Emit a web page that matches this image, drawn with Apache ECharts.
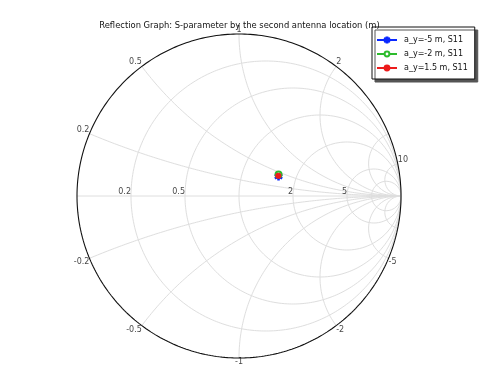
<!DOCTYPE html>
<html><head><meta charset="utf-8">
<script src="https://cdn.jsdelivr.net/npm/echarts@6/dist/echarts.min.js"></script>
<style>html,body{margin:0;padding:0;background:#fff}#c{width:479px;height:366px}</style>
</head><body><div id="c"></div>
<script>
// ---- data (reflection coefficient S11) ----
const seriesNames = ['a_y=-5 m, S11', 'a_y=-2 m, S11', 'a_y=1.5 m, S11'];
const s11Real = [0.244, 0.244, 0.243];
const s11Imag = [0.121, 0.133, 0.125];
// ---- Smith chart grid values and tick labels ----
const resistanceGrid = [0.2, 0.5, 1, 2, 5, 10];
const reactanceGrid = [0.2, 0.5, 1, 2, 5, 10];
const resistanceLabels = [0.2, 0.5, 2, 5];
const reactanceLabels = [0.2, 0.5, 1, 2, 10, -0.2, -0.5, -1, -2, -5];
const titleText = 'Reflection Graph: S-parameter by the second antenna location (m)';

const seriesColors = ['#0a28ff', '#2dbb2d', '#ec1c1c'];
const FONT = 'DejaVu Sans';

function gamma(r, x) {
  const d = (r + 1) * (r + 1) + x * x;
  return [(r * r + x * x - 1) / d, 2 * x / d];
}
function resCircle(r) {
  const pts = [];
  for (let i = 0; i <= 720; i++) {
    const t = -Math.PI / 2 + Math.PI * i / 720;
    pts.push(gamma(r, Math.tan(t)));
  }
  return pts;
}
function reactArc(x) {
  const pts = [];
  for (let i = 0; i <= 500; i++) {
    const t = (Math.PI / 2) * i / 500;
    pts.push(gamma(Math.tan(t), x));
  }
  return pts;
}
function bar(angDeg, L, W) {
  const a = angDeg * Math.PI / 180, c = Math.cos(a), s = Math.sin(a);
  const p = [[L, W], [-L, W], [-L, -W], [L, -W]].map(([u, v]) => [u * c - v * s + 10, u * s + v * c + 10]);
  return 'M' + p.map(q => q[0].toFixed(2) + ',' + q[1].toFixed(2)).join(' L') + ' Z';
}
const asterisk = 'path://' + [90, 30, -30].map(a => bar(a, 10, 1.8)).join(' ');
const symbols = [asterisk, 'emptyCircle', 'circle'];
const symbolSizes = [7, 6, 5];

const gridStyle = { color: '#dedede', width: 1 };
const series = [];
function addLine(pts, style) {
  series.push({ type: 'line', data: pts, symbol: 'none', silent: true, animation: false,
    lineStyle: style, z: 1, clip: false });
}
resistanceGrid.forEach(r => addLine(resCircle(r), gridStyle));
reactanceGrid.forEach(x => { addLine(reactArc(x), gridStyle); addLine(reactArc(-x), gridStyle); });
addLine([[-1, 0], [1, 0]], gridStyle);
addLine(resCircle(0), { color: '#111', width: 1.1 });

const labelData = [];
resistanceLabels.forEach(r => {
  labelData.push({ value: gamma(r, 0), label: { formatter: String(r), align: 'right', verticalAlign: 'bottom' } });
});
reactanceLabels.forEach(x => {
  const g = gamma(0, x);
  let align = g[0] < -0.05 ? 'right' : (g[0] > 0.05 ? 'left' : 'center');
  labelData.push({ value: g, label: { formatter: String(x), align: align, verticalAlign: x > 0 ? 'bottom' : 'top' } });
});
series.push({ type: 'scatter', data: labelData, symbolSize: 0, silent: true, animation: false, z: 3,
  label: { show: true, position: [0, 0], color: '#111', fontSize: 8, fontFamily: FONT } });

seriesNames.forEach((name, i) => {
  series.push({ name: name, type: 'line', data: [[s11Real[i], s11Imag[i]]], symbol: symbols[i],
    symbolSize: symbolSizes[i], showSymbol: true, animation: false, z: 10 + i,
    itemStyle: { color: seriesColors[i], borderColor: seriesColors[i], borderWidth: 1.2 },
    lineStyle: { color: seriesColors[i], width: 1.2 } });
});

const chart = echarts.init(document.getElementById('c'), null, { renderer: 'canvas' });
chart.setOption({
  animation: false,
  backgroundColor: '#fff',
  title: { text: titleText, left: 'center', top: 17,
    textStyle: { fontSize: 8.4, fontWeight: 'normal', color: '#111', fontFamily: FONT } },
  grid: { left: 77, top: 34, width: 324, height: 324 },
  xAxis: { type: 'value', min: -1, max: 1, show: false },
  yAxis: { type: 'value', min: -1, max: 1, show: false },
  legend: { data: seriesNames, orient: 'vertical', left: 372, top: 27, padding: [9, 7, 7, 4],
    itemWidth: 20, itemHeight: 6, itemGap: 6, backgroundColor: '#fff', borderColor: '#111', borderWidth: 1,
    borderRadius: 0, shadowColor: '#555', shadowOffsetX: 3, shadowOffsetY: 3, shadowBlur: 0,
    textStyle: { fontSize: 8, color: '#111', fontFamily: FONT, padding: [0, 0, 0, 2] } },
  series: series
});
</script></body></html>
